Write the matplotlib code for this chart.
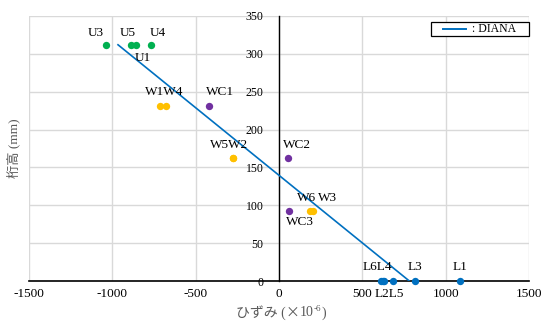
import matplotlib
matplotlib.use("Agg")
import matplotlib.pyplot as plt
from matplotlib.lines import Line2D
from matplotlib.patches import Rectangle

plt.rcParams['font.family'] = ['Liberation Serif', 'Noto Sans CJK JP']
plt.rcParams['axes.unicode_minus'] = False

# data (strain x1e-6, height mm)
u_names = ["U3", "U5", "U1", "U4"]
u_x = [-1038, -888, -858, -768]
u_y = [312, 312, 312, 312]

w_names = ["W1", "W4", "W5", "W2", "W6", "W3"]
w_x = [-714, -678, -278, -276, 186, 206]
w_y = [231, 231, 162, 162, 92, 92]

wc_names = ["WC1", "WC2", "WC3"]
wc_x = [-420, 52, 60]
wc_y = [231, 162, 92]

l_names = ["L6", "L2", "L4", "L5", "L3", "L1"]
l_x = [612, 622, 632, 686, 814, 1086]
l_y = [0, 0, 0, 0, 0, 0]

diana_x = [-966, 782]
diana_y = [312, 0]

x_ticks = [-1500, -1000, -500, 0, 500, 1000, 1500]
y_ticks = [0, 50, 100, 150, 200, 250, 300, 350]

green = "#00B050"
yellow = "#FFC000"
purple = "#7030A0"
blue = "#0070C0"
gray_text = "#595959"

W, H = 542, 321
fig = plt.figure(figsize=(W/100, H/100), dpi=100)
ax = fig.add_axes([29/W, 1-281/H, 500/W, 265/H])
ax.set_xlim(-1500, 1500)
ax.set_ylim(0, 350)
ax.set_xticks(x_ticks)
ax.set_yticks(y_ticks)
ax.grid(True, color="#d9d9d9", linewidth=1.0)
ax.set_axisbelow(True)
for s in ["top", "right"]:
    ax.spines[s].set_visible(False)
ax.spines["left"].set_position(("data", 0))
ax.spines["left"].set_color("black")
ax.spines["left"].set_linewidth(1.0)
ax.spines["bottom"].set_linewidth(1.2)
ax.tick_params(axis="x", labelsize=9.5, length=0, pad=5)
ax.tick_params(axis="y", labelsize=8.5, length=0, pad=11)

ax.plot(diana_x, diana_y, color=blue, linewidth=1.2, zorder=3)

ms = 28
ax.scatter(u_x, u_y, s=ms, color=green, zorder=4, linewidths=0)
ax.scatter(w_x, w_y, s=ms, color=yellow, zorder=4, linewidths=0)
ax.scatter(wc_x, wc_y, s=ms, color=purple, zorder=4, linewidths=0)
ax.scatter(l_x, l_y, s=ms, color=blue, zorder=4, linewidths=0, clip_on=False)

fs = 9.5
def lab(x, y, t):
    ax.text(x, y, t, fontsize=fs, ha="center", va="center", zorder=5)

lab(-1098, 328, "U3")
lab(-905, 328, "U5")
lab(-725, 328, "U4")
lab(-815, 295, "U1")
lab(-690, 250, "W1W4")
lab(-355, 250, "WC1")
lab(-300, 179, "W5W2")
lab(110, 179, "WC2")
lab(165, 110, "W6")
lab(290, 110, "W3")
lab(125, 78, "WC3")
lab(591, 18, "L6L4")
lab(659, -17, "L2L5")
lab(816, 18, "L3")
lab(1088, 18, "L1")

ax.set_ylabel("桁高 (mm)", fontsize=9.5, color=gray_text)
ax.yaxis.set_label_coords(-0.018, 0.5)

# x label with superscript, composed from pieces
fig.canvas.draw()
r = fig.canvas.get_renderer()
yb = 1 - 313/H
p1 = fig.text(0, yb, "ひずみ (", fontsize=10, ha="left", va="center", color=gray_text)
p2 = fig.text(0, yb, "×", fontsize=10, ha="left", va="center", color=gray_text,
              family=["Noto Sans CJK JP"])
p3 = fig.text(0, yb, "10", fontsize=10, ha="left", va="center", color=gray_text)
p4 = fig.text(0, 1 - 309/H, "-6", fontsize=6.5, ha="left", va="center", color=gray_text)
p5 = fig.text(0, yb, ")", fontsize=10, ha="left", va="center", color=gray_text)
parts = [p1, p2, p3, p4, p5]
widths = [p.get_window_extent(r).width for p in parts]
x = 281 - sum(widths)/2
for p, w in zip(parts, widths):
    p.set_x(x/W)
    x += w

# legend box (DIANA line)
bx0, bx1, by0, by1 = 431, 529, 22, 36
fig.patches.append(Rectangle((bx0/W, 1-by1/H), (bx1-bx0)/W, (by1-by0)/H,
                             transform=fig.transFigure, facecolor="white",
                             edgecolor="black", linewidth=0.9, zorder=6))
fig.lines.append(Line2D([443/W, 466/W], [1-29/H, 1-29/H], transform=fig.transFigure,
                        color=blue, linewidth=1.4, zorder=7))
fig.text(472/W, 1-29/H, ": DIANA", fontsize=8.5, ha="left", va="center", zorder=7)

fig.savefig("out.png", dpi=100)
